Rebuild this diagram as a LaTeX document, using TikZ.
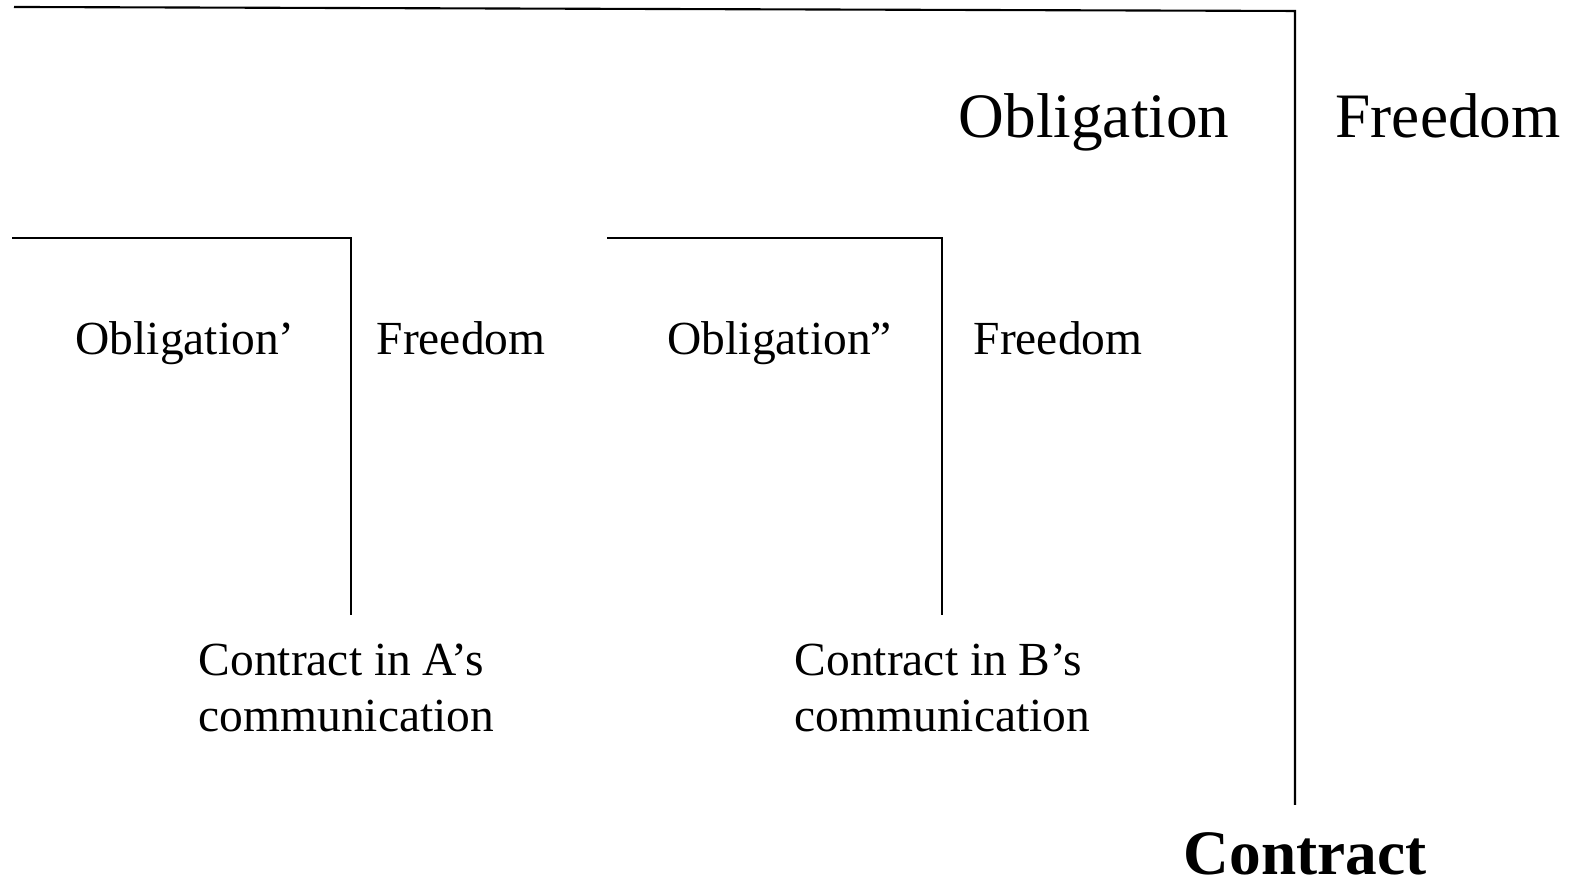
\documentclass[tikz,border=0pt]{standalone}
\usepackage{fontspec}
\setmainfont{Liberation Serif}
\usepackage{xcolor}

\begin{document}
\begin{tikzpicture}[x=0.01cm,y=0.01cm,
  bigtext/.style={inner sep=0pt,anchor=base west,font=\fontsize{18}{21.6}\selectfont},
  smalltext/.style={inner sep=0pt,anchor=base west,align=left,font=\fontsize{13.5}{16.2}\selectfont},
  frame/.style={line width=0.6pt}]
\useasboundingbox (0,0) rectangle (1578,889);
% whole contract
\coordinate (TL) at (14,882);
\coordinate (TR) at (1295,878);
\coordinate (TB) at (1295,84);
\draw[frame] (TL) -- (TR) -- (TB);
\node[bigtext] (Ob) at (958,751) {Obligation};
\node[bigtext] (Fr) at (1335,751) {Freedom};
\node[bigtext,font=\fontsize{18}{21.6}\selectfont\bfseries] (C) at (1183,14) {Contract};
% A's communication
\coordinate (AL) at (12,651);
\coordinate (AR) at (351,651);
\coordinate (AB) at (351,274);
\draw[frame] (AL) -- (AR) -- (AB);
\node[smalltext] (ObA) at (75,534) {Obligation’};
\node[smalltext] (FrA) at (376,534) {Freedom};
\node[smalltext] (CA) at (198,157) {Contract in A’s\\communication};
% B's communication
\coordinate (BL) at (607,651);
\coordinate (BR) at (942,651);
\coordinate (BB) at (942,274);
\draw[frame] (BL) -- (BR) -- (BB);
\node[smalltext] (ObB) at (667,534) {Obligation”};
\node[smalltext] (FrB) at (973,534) {Freedom};
\node[smalltext] (CB) at (794,157) {Contract in B’s\\communication};
\end{tikzpicture}
\end{document}
